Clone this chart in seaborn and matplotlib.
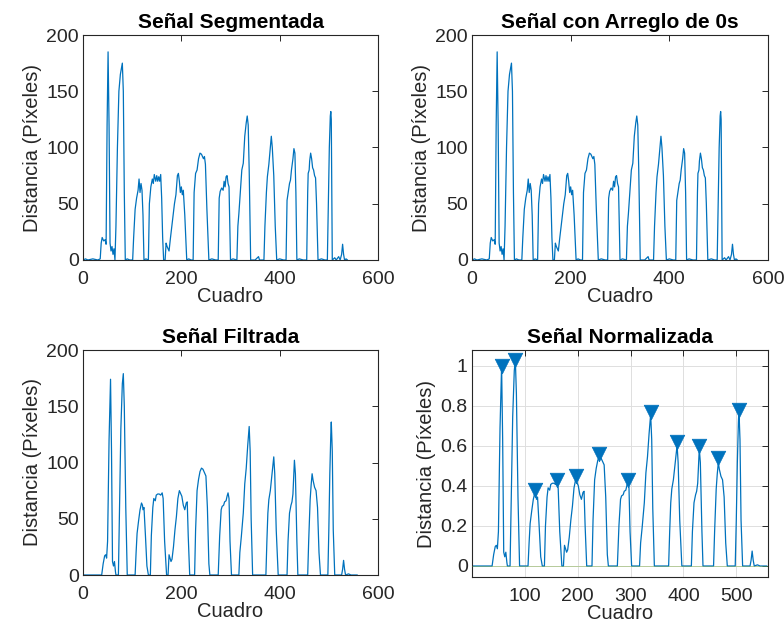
import matplotlib
matplotlib.use("Agg")
import matplotlib.pyplot as plt
import numpy as np
import seaborn as sns

# segmented signal (also the "arreglo de 0s" version)
seg_frames = [0, 5, 10, 20, 30, 35,
              37, 39, 42, 45, 47,
              49, 51, 53, 55, 57, 59, 61, 63, 65,
              67, 70, 73, 76, 78, 80, 82, 84, 86,
              90, 95, 101,
              103, 106, 109, 112, 114, 116, 118, 120, 122, 124,
              128, 133,
              135, 138, 141, 143, 145, 148, 150, 152, 154, 156, 158, 160, 162, 164,
              167, 169, 171, 173, 175, 178, 182, 186, 189, 192, 194, 196, 198, 200, 202, 204, 207, 211,
              215, 220, 224,
              226, 229, 232, 235, 238, 241, 243, 245, 247, 249, 252, 256,
              262, 270, 275,
              277, 279, 282, 285, 287, 289, 291, 293, 295, 297, 300,
              305, 313,
              315, 317, 320, 323, 326, 329, 332, 334, 336, 338, 341,
              350, 357, 359, 368,
              370, 373, 375, 378, 381, 383, 385, 388, 391, 394,
              400, 408, 413,
              415, 418, 420, 422, 424, 427, 429, 431, 433, 435,
              440, 448, 455,
              457, 458, 460, 461, 463, 465, 467, 469, 471, 473, 475, 478,
              485, 492, 497,
              499, 501, 503, 504, 505, 506, 507,
              512, 515, 520, 523, 526, 528, 530, 532, 535, 538]
seg_values = [0, 1, 0, 1, 0, 1,
              15, 20, 17, 18, 14,
              120, 185, 120, 15, 8, 12, 5, 10, 0,
              30, 100, 150, 165, 170, 175, 150, 60, 0,
              1, 0, 0,
              20, 45, 55, 62, 72, 60, 68, 62, 40, 0,
              1, 0,
              50, 65, 72, 68, 76, 70, 75, 70, 74, 70, 76, 55, 20, 0,
              0, 15, 12, 10, 8, 20, 35, 50, 58, 75, 77, 70, 60, 65, 58, 62, 40, 0,
              1, 0, 0,
              60, 77, 80, 90, 95, 94, 92, 90, 92, 85, 45, 0,
              1, 0, 0,
              55, 61, 64, 62, 70, 65, 74, 75, 68, 65, 0,
              1, 0,
              30, 41, 60, 80, 86, 110, 122, 128, 120, 80, 0,
              0, 3, 0, 0,
              30, 60, 74, 85, 100, 110, 100, 75, 30, 0,
              1, 0, 0,
              53, 62, 68, 71, 80, 90, 99, 95, 60, 0,
              1, 0, 0,
              60, 77, 80, 88, 95, 90, 82, 80, 75, 73, 50, 0,
              1, 0, 0,
              50, 100, 128, 132, 125, 60, 0,
              2, 0, 3, 0, 5, 14, 5, 0, 1, 0]

# filtered signal
filt_frames = [0, 38, 41, 44, 46, 48, 50, 53, 56, 58, 60, 62, 64, 66, 67,
               72, 74, 77, 80, 82, 84, 87, 90,
               106, 108, 110, 113, 116, 119, 121, 122, 124, 127, 130, 133,
               137, 139, 142, 144, 147, 149, 152, 155, 158, 161, 163, 166, 170,
               173, 175, 177, 179, 181, 184, 187, 190, 193, 196, 198, 201, 204, 207, 210, 212, 214, 217,
               227, 229, 232, 235, 238, 241, 244, 246, 248, 250, 253, 256, 258,
               275, 278, 281, 283, 286, 288, 291, 293, 295, 297, 299, 302,
               317, 319, 322, 326, 329, 332, 335, 338, 340, 342, 345,
               372, 374, 376, 378, 381, 384, 388, 390, 393, 397,
               415, 417, 420, 423, 425, 427, 430, 432, 435, 437,
               457, 459, 462, 464, 466, 468, 471, 474, 477, 480, 483,
               498, 500, 502, 504, 505, 507, 509, 512,
               526, 528, 530, 532, 534, 540, 545, 558]
filt_values = [0, 0, 10, 17, 18, 15, 30, 120, 174, 110, 12, 8, 12, 3, 0,
               0, 50, 130, 170, 179, 150, 60, 0,
               0, 20, 37, 48, 58, 64, 62, 58, 60, 35, 8, 0,
               0, 35, 60, 68, 66, 71, 72, 72, 71, 73, 68, 30, 0,
               0, 18, 15, 12, 14, 25, 40, 52, 68, 75, 73, 70, 62, 58, 64, 65, 35, 0,
               0, 40, 75, 85, 92, 95, 94, 92, 90, 88, 60, 10, 0,
               0, 35, 58, 61, 62, 65, 66, 70, 73, 68, 30, 0,
               0, 20, 34, 55, 81, 95, 115, 132, 110, 50, 0,
               0, 30, 55, 67, 75, 88, 105, 90, 40, 0,
               0, 30, 55, 62, 65, 72, 102, 90, 30, 0,
               0, 30, 67, 80, 90, 84, 78, 75, 60, 20, 0,
               0, 40, 90, 125, 136, 110, 40, 0,
               0, 5, 13, 5, 0, 1, 0, 0]

norm_scale = 174.0  # first peak of the filtered signal

# peaks marked on the normalized signal
peak_frames = [56, 82, 119, 161, 196, 241, 295, 338, 388, 430, 466, 505]
peak_values = [1.0, 1.03, 0.38, 0.43, 0.45, 0.56, 0.43, 0.77, 0.62, 0.60, 0.54, 0.78]

ML_BLUE = (0.0, 0.447, 0.741)
ML_GREEN = (0.466, 0.674, 0.188)
AX_GRAY = (0.15, 0.15, 0.15)

sns.set_style("white")
plt.rcParams["font.family"] = ["Liberation Sans", "DejaVu Sans"]

fig = plt.figure(figsize=(7.84, 6.25), dpi=100)
W, H = 784.0, 625.0


def make_ax(left, right, top, bottom):
    return fig.add_axes([left / W, 1 - bottom / H, (right - left) / W, (bottom - top) / H])


def style_ax(ax, title):
    for sp in ax.spines.values():
        sp.set_color(AX_GRAY)
        sp.set_linewidth(0.8)
    ax.tick_params(direction="in", length=4, width=0.7, colors=AX_GRAY,
                   labelsize=14, top=True, right=True, pad=3)
    ax.tick_params(axis="x", pad=8)
    ax.set_title(title, fontsize=15, fontweight="bold", color="black", pad=5)
    ax.set_xlabel("Cuadro", fontsize=14.5, color=AX_GRAY, labelpad=-1)
    ax.set_ylabel("Distancia (Píxeles)", fontsize=14.5, color=AX_GRAY, labelpad=3)


panels = [
    (83, 378, 35, 260, "Señal Segmentada", seg_frames, seg_values),
    (472, 768, 35, 260, "Señal con Arreglo de 0s", seg_frames, seg_values),
    (83, 378, 350, 575, "Señal Filtrada", filt_frames, filt_values),
]
for left, right, top, bottom, title, xs, ys in panels:
    ax = make_ax(left, right, top, bottom)
    sns.lineplot(x=xs, y=ys, ax=ax, color=ML_BLUE, linewidth=0.9, estimator=None)
    ax.set_xlim(0, 600)
    ax.set_ylim(0, 200)
    ax.set_xticks([0, 200, 400, 600])
    ax.set_yticks([0, 50, 100, 150, 200])
    style_ax(ax, title)

# normalized signal with detected peaks
ax = make_ax(472, 768, 350, 577)
norm_values = np.array(filt_values) / norm_scale
sns.lineplot(x=filt_frames, y=norm_values, ax=ax, color=ML_BLUE, linewidth=0.9, estimator=None)
ax.plot([0, 560], [0, 0], color=ML_GREEN, linewidth=0.6, alpha=0.45, zorder=3)
sns.scatterplot(x=peak_frames, y=peak_values, ax=ax, marker="v", s=110,
                color=ML_BLUE, edgecolor=ML_BLUE, linewidth=0.5, zorder=4)
ax.set_xlim(0, 560)
ax.set_ylim(-0.055, 1.08)
ax.set_xticks([100, 200, 300, 400, 500])
ax.set_yticks([0, 0.2, 0.4, 0.6, 0.8, 1])
ax.set_yticklabels(["0", "0.2", "0.4", "0.6", "0.8", "1"])
ax.grid(True, color=(0.87, 0.87, 0.87), linewidth=0.7)
ax.set_axisbelow(True)
style_ax(ax, "Señal Normalizada")

fig.savefig("out.png", dpi=100)
